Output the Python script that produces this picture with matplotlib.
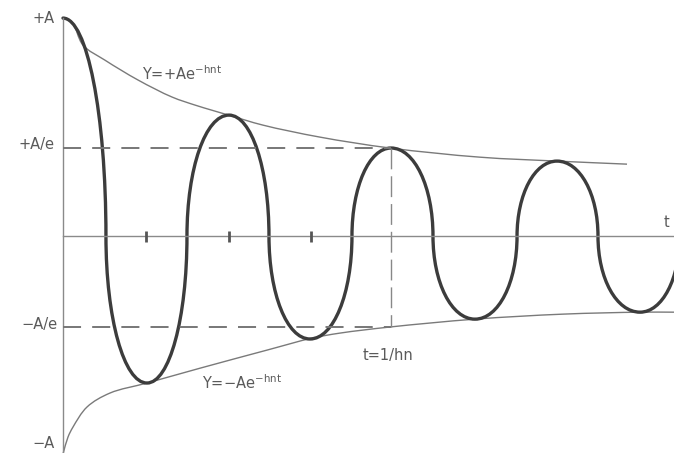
"""
Damped oscillation with exponential envelope
"""
import numpy as np
import matplotlib
matplotlib.use('Agg')
import matplotlib.pyplot as plt
from matplotlib.path import Path
from matplotlib.patches import PathPatch

plt.rcParams['lines.scale_dashes'] = False
plt.rcParams['font.family'] = ['DejaVu Sans']

# time in half-periods, displacement in units of A
t_peaks = [0.0, 1.024, 2.024, 3.012, 4.0, 5.024, 6.024, 7.037]
y_peaks = [1.0, -0.674, 0.555, -0.472, 0.404, -0.381, 0.344, -0.349]
t_zeros = [0.524, 1.512, 2.512, 3.524, 4.512, 5.537, 6.524, 7.52]

t_upper = [0.0, 0.11, 0.244, 0.512, 0.915, 1.329, 1.61, 1.829, 2.037, 2.439, 3.134,
           3.988, 5.085, 6.024, 6.878]
y_upper = [1.0, 0.982, 0.876, 0.807, 0.716, 0.638, 0.601, 0.576, 0.553, 0.509, 0.454,
           0.404, 0.362, 0.344, 0.33]

t_lower = [0.0, 0.061, 0.122, 0.293, 0.573, 1.024, 1.671, 2.488, 3.037, 3.378, 3.988,
           5.024, 6.098, 7.037, 7.451]
y_lower = [-1.0, -0.922, -0.876, -0.784, -0.72, -0.674, -0.606, -0.523, -0.468, -0.445,
           -0.417, -0.381, -0.358, -0.349, -0.349]

t_ticks = [1.01, 2.02, 3.02]
t_e = 4.0           # t = 1/hn
y_e = 0.404         # A/e level as drawn
y_e_neg = -0.417

x_min, x_max = -0.768, 7.451
y_min, y_max = -0.995, 1.083


def smooth_path(xs, ys, sx, sy):
    # centripetal catmull-rom through the read points, as cubic bezier segments
    P = np.column_stack([np.asarray(xs) * sx, np.asarray(ys) * sy])
    n = len(P)
    verts = [P[0]]
    codes = [Path.MOVETO]
    for i in range(n - 1):
        p0 = P[i - 1] if i > 0 else P[i]
        p1, p2 = P[i], P[i + 1]
        p3 = P[i + 2] if i + 2 < n else P[i + 1]
        d1 = np.linalg.norm(p1 - p0) ** 0.5
        d2 = np.linalg.norm(p2 - p1) ** 0.5
        d3 = np.linalg.norm(p3 - p2) ** 0.5
        if d1 < 1e-9:
            b1 = p1 + (p2 - p1) / 3
        else:
            b1 = (d1**2 * p2 - d2**2 * p0 + (2 * d1**2 + 3 * d1 * d2 + d2**2) * p1) / (3 * d1 * (d1 + d2))
        if d3 < 1e-9:
            b2 = p2 - (p2 - p1) / 3
        else:
            b2 = (d3**2 * p1 - d2**2 * p3 + (2 * d3**2 + 3 * d3 * d2 + d2**2) * p2) / (3 * d3 * (d3 + d2))
        verts += [b1, b2, p2]
        codes += [Path.CURVE4] * 3
    verts = np.array(verts) / [sx, sy]
    return Path(verts, codes)


def wave_path(tp, yp, tz, k=0.56):
    # quarter-ellipse arcs: flat at each extreme, vertical through each zero
    verts = [(tp[0], yp[0])]
    codes = [Path.MOVETO]
    for i in range(len(tp)):
        # extreme -> zero
        verts += [(tp[i] + k * (tz[i] - tp[i]), yp[i]), (tz[i], k * yp[i]), (tz[i], 0)]
        codes += [Path.CURVE4] * 3
        if i + 1 < len(tp):
            # zero -> next extreme
            verts += [(tz[i], k * yp[i + 1]), (tp[i + 1] - k * (tp[i + 1] - tz[i]), yp[i + 1]),
                      (tp[i + 1], yp[i + 1])]
            codes += [Path.CURVE4] * 3
    return Path(verts, codes)


fig = plt.figure(figsize=(6.74, 4.53), dpi=100)
ax = fig.add_axes([0, 0, 1, 1])
ax.set_xlim(x_min, x_max)
ax.set_ylim(y_min, y_max)
ax.axis('off')

axis_col = '#8a8a8a'
txt_col = '#5a5a5a'
sx, sy = 82.0, 218.0   # pixel scale of one unit, used for smoothing only

# axes
ax.plot([0, 0], [1.0, y_min - 0.05], color=axis_col, lw=1.0)
ax.plot([0, x_max], [0, 0], color=axis_col, lw=1.0)
ax.vlines(t_ticks, -0.028, 0.023, color='#555555', lw=2.0)

# dashed reference lines
ax.plot([0, t_e], [y_e, y_e], color='#777777', lw=1.4, dashes=(13, 8))
ax.plot([0, t_e], [y_e_neg, y_e_neg], color='#777777', lw=1.4, dashes=(13, 8))
ax.plot([t_e, t_e], [y_e, y_e_neg], color='#888888', lw=1.0, dashes=(15, 5))

# envelopes
for tt, yy in [(t_upper, y_upper), (t_lower, y_lower)]:
    ax.add_patch(PathPatch(smooth_path(tt, yy, sx, sy), fill=False,
                           edgecolor='#7a7a7a', lw=1.0))

# damped curve
ax.add_patch(PathPatch(wave_path(t_peaks, y_peaks, t_zeros), fill=False,
                       edgecolor='#3c3c3c', lw=2.4, joinstyle='round', capstyle='round'))

fs = 10.5
ax.text(-0.1, 1.0, '+A', ha='right', va='center', fontsize=fs, color=txt_col)
ax.text(-0.1, y_e + 0.015, '+A/e', ha='right', va='center', fontsize=fs, color=txt_col)
ax.text(-0.07, y_e_neg + 0.01, '\u2212A/e', ha='right', va='center', fontsize=fs, color=txt_col)
ax.text(-0.1, -0.953, '\u2212A', ha='right', va='center', fontsize=fs, color=txt_col)
ax.text(7.33, 0.064, 't', ha='left', va='center', fontsize=fs, color=txt_col)
ax.text(0.963, 0.745, r'Y=+Ae$^{\mathregular{-hnt}}$', ha='left', va='center',
        fontsize=fs, color=txt_col)
ax.text(1.695, -0.67, r'Y=$-$Ae$^{\mathregular{-hnt}}$', ha='left', va='center',
        fontsize=fs, color=txt_col)
ax.text(3.66, -0.546, 't=1/hn', ha='left', va='center', fontsize=fs, color=txt_col)

fig.savefig('out.png', dpi=100, facecolor='white')
